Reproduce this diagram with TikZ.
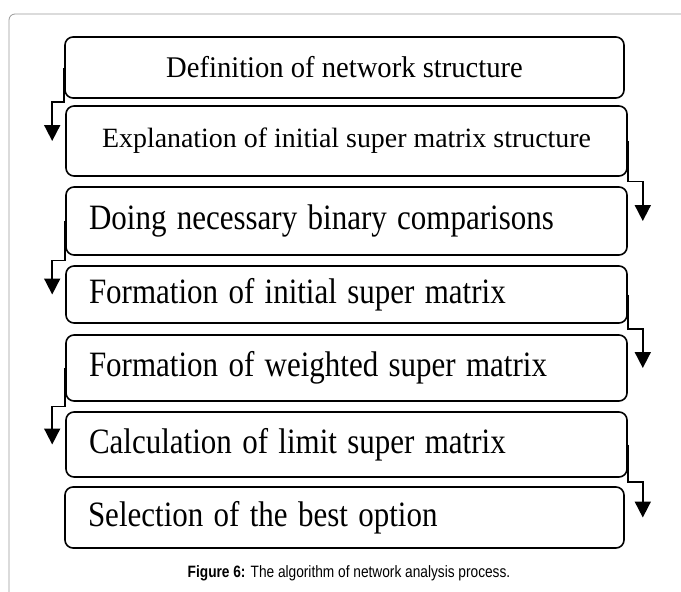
\documentclass[tikz,border=0pt]{standalone}
\usepackage{fontspec}
\setmainfont{Liberation Serif}
\newfontfamily\captionfont{Liberation Sans}
\usetikzlibrary{arrows.meta,calc}
\newcommand{\tallbox}[2][1.15]{\scalebox{1}[#1]{#2}}

\begin{document}
\begin{tikzpicture}[x=1pt,y=-1pt,
  stepbox/.style={draw, line width=1.6pt, rounded corners=8pt, inner sep=0pt, font=\fontsize{31}{36}\selectfont},
  leftbox/.style={stepbox, text width=515pt, align=left, inner xsep=23pt},
  flowline/.style={line width=1.8pt, -{Triangle[length=16pt,width=16pt]}}]

\useasboundingbox (0,0) rectangle (681,592);
\draw[gray!80, line width=0.8pt, rounded corners=6pt] (9,592) -- (9,14) -- (681,14);

\node[stepbox, minimum width=559pt, minimum height=61pt, font=\fontsize{28.6}{32}\selectfont] (b1) at (344.5,67.5) {\tallbox[1.05]{Definition of network structure}};
\node[stepbox, minimum width=561pt, minimum height=70pt, font=\fontsize{27.9}{32}\selectfont] (b2) at (346.5,141) {\raisebox{4pt}{Explanation of initial super matrix structure}};
\node[leftbox, minimum height=68pt] (b3) at (346.5,221) {\tallbox{Doing necessary binary comparisons}};
\node[leftbox, minimum height=57pt] (b4) at (346.5,294.5) {\tallbox{Formation of initial super matrix}};
\node[leftbox, minimum height=66pt] (b5) at (346.5,368) {\tallbox{Formation of weighted super matrix}};
\node[leftbox, minimum height=65pt] (b6) at (346.5,444.5) {\tallbox{Calculation of limit super matrix}};
\node[leftbox, minimum height=61pt, text width=513pt] (b7) at (344.5,517.5) {\tallbox{Selection of the best option}};

\node[font=\captionfont\fontsize{13.7}{16}\selectfont] (cap) at (349,573) {\tallbox[1.2]{\textbf{Figure 6:} The algorithm of network analysis process.}};

\coordinate (g12) at ($(b1.south)!0.5!(b2.north)$);
\coordinate (g23) at ($(b2.south)!0.5!(b3.north)$);
\coordinate (g34) at ($(b3.south)!0.5!(b4.north)$);
\coordinate (g45) at ($(b4.south)!0.5!(b5.north)$);
\coordinate (g56) at ($(b5.south)!0.5!(b6.north)$);
\coordinate (g67) at ($(b6.south)!0.5!(b7.north)$);

\draw[flowline] (b1.west) -- (b1.west |- g12) -| ([xshift=-13pt]b2.west);
\draw[flowline] (b2.east) -- (b2.east |- g23) -| ([xshift=15pt]b3.east);
\draw[flowline] (b3.west) -- (b3.west |- g34) -| ([xshift=-13pt]b4.west);
\draw[flowline] (b4.east) -- (b4.east |- g45) -| ([xshift=15pt]b5.east);
\draw[flowline] (b5.west) -- (b5.west |- g56) -| ([xshift=-13pt]b6.west);
\draw[flowline] (b6.east) -- (b6.east |- g67) -| ([xshift=18pt]b7.east);

\end{tikzpicture}
\end{document}
